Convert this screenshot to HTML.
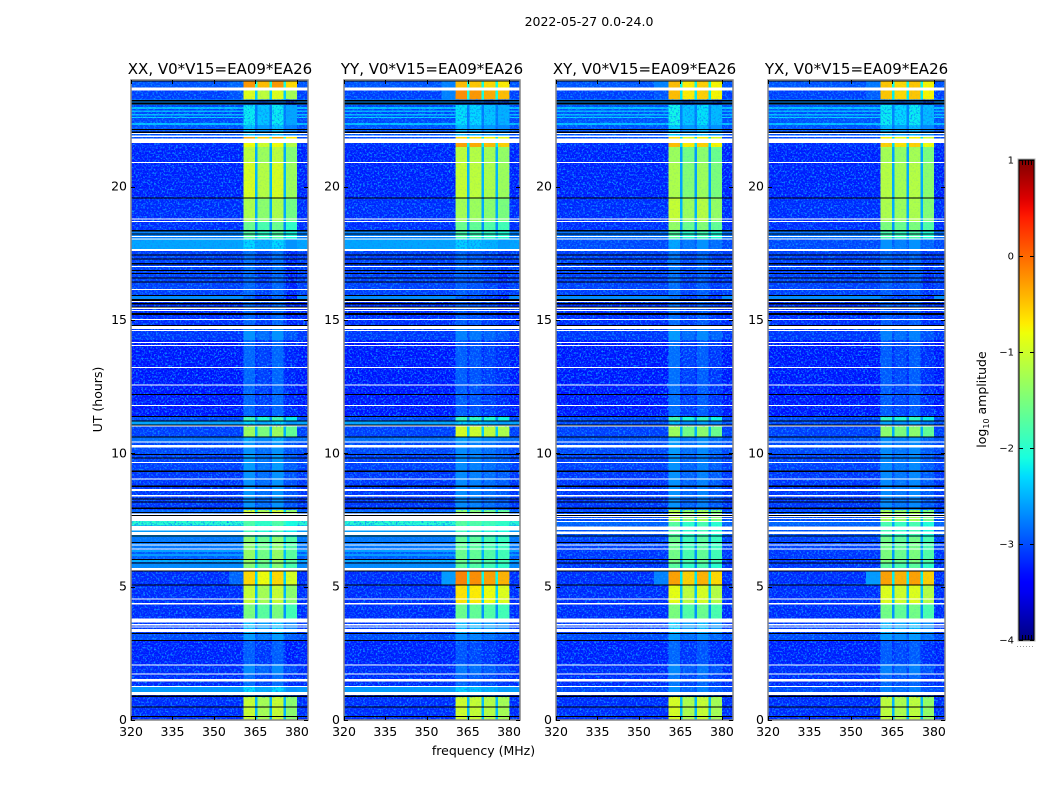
<!DOCTYPE html>
<html lang="en">
<head>
<meta charset="utf-8">
<title>2022-05-27 0.0-24.0</title>
<style>
  html, body { margin: 0; padding: 0; background: #ffffff; }
  #figure { display: block; width: 1050px; height: 800px; font-family: "DejaVu Sans", "Liberation Sans", sans-serif; fill: #000; }
  .cell { shape-rendering: crispEdges; }
  .tick { stroke: #000; stroke-width: 1; shape-rendering: crispEdges; }
</style>
</head>
<body>
<svg id="figure" xmlns="http://www.w3.org/2000/svg" width="1050" height="800" viewBox="0 0 1050 800">
  <defs>
    <filter id="speckle" x="0" y="0" width="100%" height="100%" color-interpolation-filters="sRGB">
      <feTurbulence type="fractalNoise" baseFrequency="0.55" numOctaves="2" seed="7"/>
      <feColorMatrix type="matrix" values="0 0 0 0 0.05  0 0 0 0 0.55  0 0 0 0 1  3.6 0 0 0 -1.7"/>
    </filter>
    <linearGradient id="jet-gradient" x1="0" y1="1" x2="0" y2="0"></linearGradient>
  </defs>
  <text x="589" y="26" font-size="12.5" text-anchor="middle">2022-05-27 0.0-24.0</text>
  <g id="panels"></g>
  <text x="102" y="399.5" font-size="12.5" text-anchor="middle" transform="rotate(-90 102 399.5)">UT (hours)</text>
  <text x="483.5" y="755" font-size="12.5" text-anchor="middle">frequency (MHz)</text>
  <g id="colorbar"></g>
  <text x="986" y="399.5" font-size="12.5" text-anchor="middle" transform="rotate(-90 986 399.5)">log<tspan font-size="8" dy="3">10</tspan><tspan dy="-3"> amplitude</tspan></text>
</svg>
<script>
// ---- chart data (log10 amplitude, hours, MHz) ----
const panelNames = ['XX', 'YY', 'XY', 'YX'];
const panelTitles = ['XX, V0*V15=EA09*EA26', 'YY, V0*V15=EA09*EA26', 'XY, V0*V15=EA09*EA26', 'YX, V0*V15=EA09*EA26'];
const freqTicks = [320, 335, 350, 365, 380];
const hourTicks = [0, 5, 10, 15, 20];
const colorTicks = [-4, -3, -2, -1, 0, 1];

// channel edges in MHz: background, four RFI sub-bands and the gaps between them
const freqEdges = [320, 360.6, 364.8, 365.7, 370, 370.9, 375.1, 376, 380.1, 384];
const channelKinds = ['bg', 's0', 'gap', 's1', 'gap', 's2', 'gap', 's3', 'bg'];

// time blocks: upper edge in hours
const blockTop = [0.86,1.05,1.24,1.72,2.10,2.97,3.22,3.80,4.34,5.06,5.59,5.89,6.41,6.87,7.30,7.47,7.87,9.30,9.94,10.41,10.63,11.00,11.21,11.36,14.25,14.70,15.90,16.88,17.66,18.04,18.38,18.68,19.58,20.89,21.49,21.64,21.80,21.87,22.31,23.06,23.27,23.60,23.71,24.00];
const bgCo     = [-3.2,-3.2,-2.6,-3.2,-3.2,-3.25,-3.05,-3.15,-3.2,-3.2,-3.2,-2.7,-2.95,-2.8,-2.6,-2.0,-2.9,-3.15,-3.1,-3.05,-2.85,-3.1,-2.55,-3.05,-3.3,-3.15,-3.2,-3.1,-3.1,-2.55,-2.75,-3.2,-3.2,-3.25,-3.25,-3.2,-3.2,-3.05,-3.0,-3.05,-2.7,-3.1,-3.1,-3.0];
const bgCross  = [-3.2,-3.2,-3.05,-3.2,-3.2,-3.25,-3.05,-3.15,-3.2,-3.2,-3.2,-3.15,-3.15,-3.1,-3.0,-2.9,-3.05,-3.15,-3.1,-3.05,-3.0,-3.1,-3.05,-3.05,-3.3,-3.15,-3.2,-3.1,-3.1,-3.05,-2.85,-3.2,-3.2,-3.25,-3.25,-3.2,-3.2,-3.05,-3.0,-3.0,-2.7,-3.1,-3.1,-3.0];
const rfiXX    = [-1.15,-2.75,-2.4,-2.95,-2.8,-3.05,-2.7,-2.5,-1.6,-1.15,-0.7,-1.55,-1.45,-1.5,-1.95,-1.85,-1.1,-2.75,-2.7,-2.75,-2.6,-1.4,-2.4,-1.95,-3.0,-2.75,-3.0,-3.0,-2.95,-2.4,-1.85,-1.7,-1.3,-1.05,-1.2,-0.9,-0.9,-0.45,-2.5,-2.3,-2.9,-1.0,-1.0,-0.35];
const rfiYY    = [-1.05,-2.75,-2.4,-2.95,-2.85,-3.05,-2.75,-2.5,-1.65,-0.7,-0.2,-1.75,-1.65,-1.7,-1.9,-1.75,-1.45,-2.75,-2.75,-2.75,-2.6,-1.0,-2.4,-1.95,-3.0,-2.8,-3.0,-3.0,-2.95,-2.4,-1.85,-1.65,-1.3,-1.1,-1.15,-0.35,-0.35,-0.65,-2.5,-2.3,-2.9,-0.25,-0.25,-0.5];
const rfiXY    = [-1.1,-2.85,-2.8,-2.95,-2.85,-3.05,-2.75,-2.5,-1.65,-1.0,-0.45,-1.85,-1.7,-1.75,-1.9,-1.85,-1.3,-2.8,-2.8,-2.75,-2.7,-1.45,-2.6,-2.0,-3.0,-2.75,-3.0,-3.0,-2.95,-2.7,-1.9,-1.5,-1.2,-1.35,-1.45,-0.6,-0.6,-0.8,-2.5,-2.3,-2.9,-0.6,-0.6,-0.6];
const rfiYX    = [-1.15,-2.85,-2.8,-2.95,-2.8,-3.0,-2.65,-2.5,-1.6,-0.95,-0.35,-1.75,-1.55,-1.6,-1.9,-1.85,-1.3,-2.75,-2.75,-2.75,-2.7,-1.45,-2.6,-2.0,-3.0,-2.8,-3.0,-3.0,-2.95,-2.7,-1.85,-1.55,-1.25,-1.2,-1.3,-0.6,-0.6,-0.8,-2.5,-2.25,-2.9,-0.55,-0.55,-0.55];

// per-pol sub-band brightness offset
const subOffsetXX = [0.1, -0.1, 0.1, -0.25];
const subOffsetYY = [0.05, 0.0, -0.1, -0.2];
const subOffsetXY = [0.15, -0.1, 0.05, -0.15];
const subOffsetYX = [0.05, -0.05, 0.05, -0.2];

// brighter background stripes: hours and level; crossToo = also in cross pols
const stripeStart = [22.91,22.80,22.67,22.58,22.31,6.30,6.15,5.93,15.79];
const stripeEnd   = [22.99,22.86,22.73,22.61,22.39,6.38,6.23,6.04,15.90];
const stripeLevel = [-2.4,-2.45,-2.4,-2.3,-2.4,-2.55,-2.6,-2.5,-2.7];
const stripeCrossToo = [1,1,1,1,1,0,0,0,1];

// shoulder of emission just below the RFI block
const shoulderStart = [5.09, 23.27, 23.71];
const shoulderEnd   = [5.59, 23.60, 23.96];
const shoulderXX = [-2.9, -3.0, -2.9];
const shoulderYY = [-2.6, -2.75, -2.75];
const shoulderXY = [-2.75, -3.0, -2.75];
const shoulderYX = [-2.6, -2.95, -2.8];

// flagged rows: [start hour, end hour]
const whiteSpans = [[23.6,23.71],[21.97,22.01],[21.87,21.91],[21.64,21.8],[20.89,20.93],[18.77,18.81],[18.68,18.71],[18.11,18.15],[18.02,18.05],[17.59,17.66],[17.0,17.03],[16.13,16.16],[15.68,15.71],[15.42,15.46],[15.34,15.38],[15.0,15.04],[14.67,14.77],[14.59,14.63],[14.13,14.17],[14.03,14.06],[13.2,13.24],[12.56,12.59],[11.78,11.81],[11.0,11.04],[10.41,10.45],[10.21,10.32],[9.64,9.68],[9.03,9.06],[8.59,8.66],[8.39,8.43],[6.56,6.59],[6.41,6.44],[5.61,5.7],[4.53,4.56],[4.34,4.38],[3.65,3.8],[3.55,3.6],[3.46,3.5],[3.3,3.41],[2.05,2.09],[1.71,1.75],[1.45,1.53],[1.24,1.28],[0.94,1.05]];
const whiteSpansCo = [[7.68,7.75],[7.47,7.65],[7.1,7.28],[6.93,7.05]];
const whiteSpansCross = [[7.68,7.72],[7.61,7.65],[7.54,7.58],[7.43,7.46],[7.13,7.25],[6.97,7.07]];
const blackSpans = [[23.94,24],[23.19,23.25],[23.09,23.15],[22.13,22.16],[22.02,22.06],[19.58,19.6],[18.32,18.38],[18.21,18.24],[17.42,17.46],[17.27,17.31],[17.08,17.14],[16.84,16.88],[16.75,16.77],[16.58,16.6],[16.41,16.44],[15.9,15.94],[15.71,15.78],[15.59,15.63],[15.46,15.5],[15.19,15.27],[14.79,14.81],[12.19,12.23],[11.36,11.4],[11.21,11.23],[11.04,11.09],[10.62,10.64],[9.94,9.98],[9.8,9.84],[9.3,9.36],[8.73,8.79],[8.28,8.31],[8.15,8.19],[7.92,7.96],[7.76,7.8],[7.65,7.68],[6.88,6.92],[6.63,6.68],[6.0,6.03],[5.87,5.9],[5.59,5.61],[5.06,5.09],[3.22,3.27],[2.97,3.0],[0.86,0.92],[0.46,0.5],[0.11,0.15]];

// ---- drawing ----
const NS = 'http://www.w3.org/2000/svg';
const plotTop = 80, plotBottom = 720;
const panelLeft = [131, 344, 556, 768];
const panelRight = [308, 520, 733, 945];
const titleCenter = [220, 432, 644.5, 856.5];
const vMin = -4, vMax = 1;

function interp(t, pts) {
  for (let i = 1; i < pts.length; i++) {
    if (t <= pts[i][0]) {
      const a = pts[i - 1], b = pts[i];
      return a[1] + (b[1] - a[1]) * (t - a[0]) / (b[0] - a[0]);
    }
  }
  return pts[pts.length - 1][1];
}
function jet(v) {
  const t = Math.min(1, Math.max(0, (v - vMin) / (vMax - vMin)));
  const r = interp(t, [[0, 0], [0.35, 0], [0.66, 1], [0.89, 1], [1, 0.5]]);
  const g = interp(t, [[0, 0], [0.125, 0], [0.375, 1], [0.64, 1], [0.91, 0], [1, 0]]);
  const b = interp(t, [[0, 0.5], [0.11, 1], [0.34, 1], [0.65, 0], [1, 0]]);
  return 'rgb(' + Math.round(r * 255) + ',' + Math.round(g * 255) + ',' + Math.round(b * 255) + ')';
}
function hourY(h) { return plotBottom - h / 24 * (plotBottom - plotTop); }
function mk(tag, parent, attrs) {
  const el = document.createElementNS(NS, tag);
  for (const k in attrs) el.setAttribute(k, attrs[k]);
  parent.appendChild(el);
  return el;
}

const rfiByPol = [rfiXX, rfiYY, rfiXY, rfiYX];
const subOffsetByPol = [subOffsetXX, subOffsetYY, subOffsetXY, subOffsetYX];
const shoulderByPol = [shoulderXX, shoulderYY, shoulderXY, shoulderYX];
const panelsRoot = document.getElementById('panels');

panelNames.forEach(function (pol, p) {
  const left = panelLeft[p], right = panelRight[p];
  const freqX = function (f) { return left + (f - 320) / 64 * (right - left); };
  const isCross = p >= 2;
  const bgSeries = isCross ? bgCross : bgCo;
  const rfiSeries = rfiByPol[p];
  const subOffset = subOffsetByPol[p];

  const g = mk('g', panelsRoot, {});
  
  

  // heatmap cells
  blockTop.forEach(function (top, i) {
    const lo = i === 0 ? 0 : blockTop[i - 1];
    channelKinds.forEach(function (kind, c) {
      const bg = bgSeries[i], rfi = rfiSeries[i];
      let v = bg;
      if (kind === 'gap') v = bg + 0.35 * (rfi - bg);
      else if (kind !== 'bg') v = rfi + subOffset[+kind.charAt(1)];
      const x0 = freqX(freqEdges[c]), x1 = freqX(freqEdges[c + 1]);
      const cell = mk('rect', g, { x: x0, y: hourY(top), width: x1 - x0, height: hourY(lo) - hourY(top), fill: jet(v), 'class': 'cell' });
      
      
    });
  });

  // bright background stripes
  stripeStart.forEach(function (s, i) {
    if (isCross && !stripeCrossToo[i]) return;
    [[320, 360.6], [380.1, 384]].forEach(function (range) {
      const r = mk('rect', g, { x: freqX(range[0]), y: hourY(stripeEnd[i]), width: freqX(range[1]) - freqX(range[0]), height: Math.max(1, hourY(s) - hourY(stripeEnd[i])), fill: jet(stripeLevel[i]), 'class': 'cell' });
      
      
    });
  });

  // emission shoulder
  shoulderStart.forEach(function (s, i) {
    const r = mk('rect', g, { x: freqX(355.5), y: hourY(shoulderEnd[i]), width: freqX(360.6) - freqX(355.5), height: hourY(s) - hourY(shoulderEnd[i]), fill: jet(shoulderByPol[p][i]), 'class': 'cell' });
    
    
  });

  // fine-grain texture overlays
  const bgNoiseA = mk('rect', g, { x: left, y: plotTop, width: freqX(360.6) - left, height: plotBottom - plotTop, fill: '#fff', filter: 'url(#speckle)' });
  
  
  const bgNoiseB = mk('rect', g, { x: freqX(380.1), y: plotTop, width: right - freqX(380.1), height: plotBottom - plotTop, fill: '#fff', filter: 'url(#speckle)' });
  
  
  blockTop.forEach(function (top, i) {
    const lo = i === 0 ? 0 : blockTop[i - 1];
    const rfiNoise = mk('rect', g, { x: freqX(360.6), y: hourY(top), width: freqX(380.1) - freqX(360.6), height: hourY(lo) - hourY(top), fill: '#fff', filter: 'url(#speckle)', opacity: rfiSeries[i] < -2.2 ? 1 : 0.1 });
    
    
  });

  // flagged rows
  whiteSpans.concat(isCross ? whiteSpansCross : whiteSpansCo).forEach(function (span) {
    const r = mk('rect', g, { x: left, y: hourY(span[1]), width: right - left, height: Math.max(1, hourY(span[0]) - hourY(span[1])), fill: '#fff', 'class': 'cell' });
    
    
  });
  blackSpans.forEach(function (span) {
    const r = mk('rect', g, { x: left, y: hourY(span[1]), width: right - left, height: Math.max(1, hourY(span[0]) - hourY(span[1])), fill: '#000', 'class': 'cell' });
    
    
  });

  // frame
  const frame = mk('rect', g, { x: left, y: plotTop, width: right - left, height: plotBottom - plotTop, fill: 'none', stroke: '#858585', 'stroke-width': 1.5 });
  
  

  // x ticks
  freqTicks.forEach(function (f) {
    const x = Math.round(freqX(f)) + 0.5;
    const t1 = mk('line', g, { x1: x, x2: x, y1: plotBottom, y2: plotBottom - 4, 'class': 'tick' });
    
    
    const t2 = mk('line', g, { x1: x, x2: x, y1: plotTop, y2: plotTop + 4, 'class': 'tick' });
    
    
    const lab = mk('text', g, { x: freqX(f), y: 736, 'font-size': 12.5, 'text-anchor': 'middle' });
    lab.textContent = String(f);
    
    
  });

  // y ticks
  hourTicks.forEach(function (h) {
    const y = Math.round(hourY(h)) + 0.5;
    const t1 = mk('line', g, { x1: left, x2: left + 4, y1: y, y2: y, 'class': 'tick' });
    
    
    const t2 = mk('line', g, { x1: right, x2: right - 4, y1: y, y2: y, 'class': 'tick' });
    
    
    const lab = mk('text', g, { x: left - 4, y: hourY(h) + 4, 'font-size': 12.5, 'text-anchor': 'end' });
    lab.textContent = String(h);
    
    
  });

  const title = mk('text', g, { x: titleCenter[p], y: 74, 'font-size': 15, 'text-anchor': 'middle' });
  title.textContent = panelTitles[p];
  
  
});

// ---- colorbar ----
const cbLeft = 1019, cbRight = 1034, cbTop = 160, cbBottom = 640;
const cbRoot = document.getElementById('colorbar');
const gradient = document.getElementById('jet-gradient');
for (let i = 0; i <= 50; i++) {
  const stop = mk('stop', gradient, { offset: (i / 50), 'stop-color': jet(vMin + (vMax - vMin) * i / 50) });
}
function cbY(v) { return cbBottom - (v - vMin) / (vMax - vMin) * (cbBottom - cbTop); }

const cbFill = mk('rect', cbRoot, { x: cbLeft, y: cbTop, width: cbRight - cbLeft, height: cbBottom - cbTop, fill: 'url(#jet-gradient)', stroke: '#000', 'stroke-width': 1 });


const cbFrame = mk('rect', cbRoot, { x: cbLeft - 1, y: cbTop - 1, width: cbRight - cbLeft + 2, height: cbBottom - cbTop + 2, fill: 'none', stroke: '#b0b0b0', 'stroke-width': 1 });



colorTicks.forEach(function (v) {
  const y = Math.round(cbY(v)) + 0.5;
  const t1 = mk('line', cbRoot, { x1: cbLeft, x2: cbLeft + 4, y1: y, y2: y, 'class': 'tick' });
  
  
  const t2 = mk('line', cbRoot, { x1: cbRight, x2: cbRight - 4, y1: y, y2: y, 'class': 'tick' });
  
  
  const lab = mk('text', cbRoot, { x: 1014, y: cbY(v) + 3.5, 'font-size': 10, 'text-anchor': 'end' });
  lab.textContent = v < 0 ? '\u2212' + Math.abs(v) : String(v);
  
  
});

[1022, 1025, 1028, 1031].forEach(function (x) {
  const tTop = mk('line', cbRoot, { x1: x + 0.5, x2: x + 0.5, y1: cbTop, y2: cbTop + 5, 'class': 'tick' });
  
  
  const tBot = mk('line', cbRoot, { x1: x + 0.5, x2: x + 0.5, y1: cbBottom, y2: cbBottom - 5, 'class': 'tick' });
  
  
});

const cbDots = mk('line', cbRoot, { x1: 1017, x2: 1035, y1: 646.5, y2: 646.5, stroke: '#999', 'stroke-width': 1, 'stroke-dasharray': '1 2' });


</script>
</body>
</html>
